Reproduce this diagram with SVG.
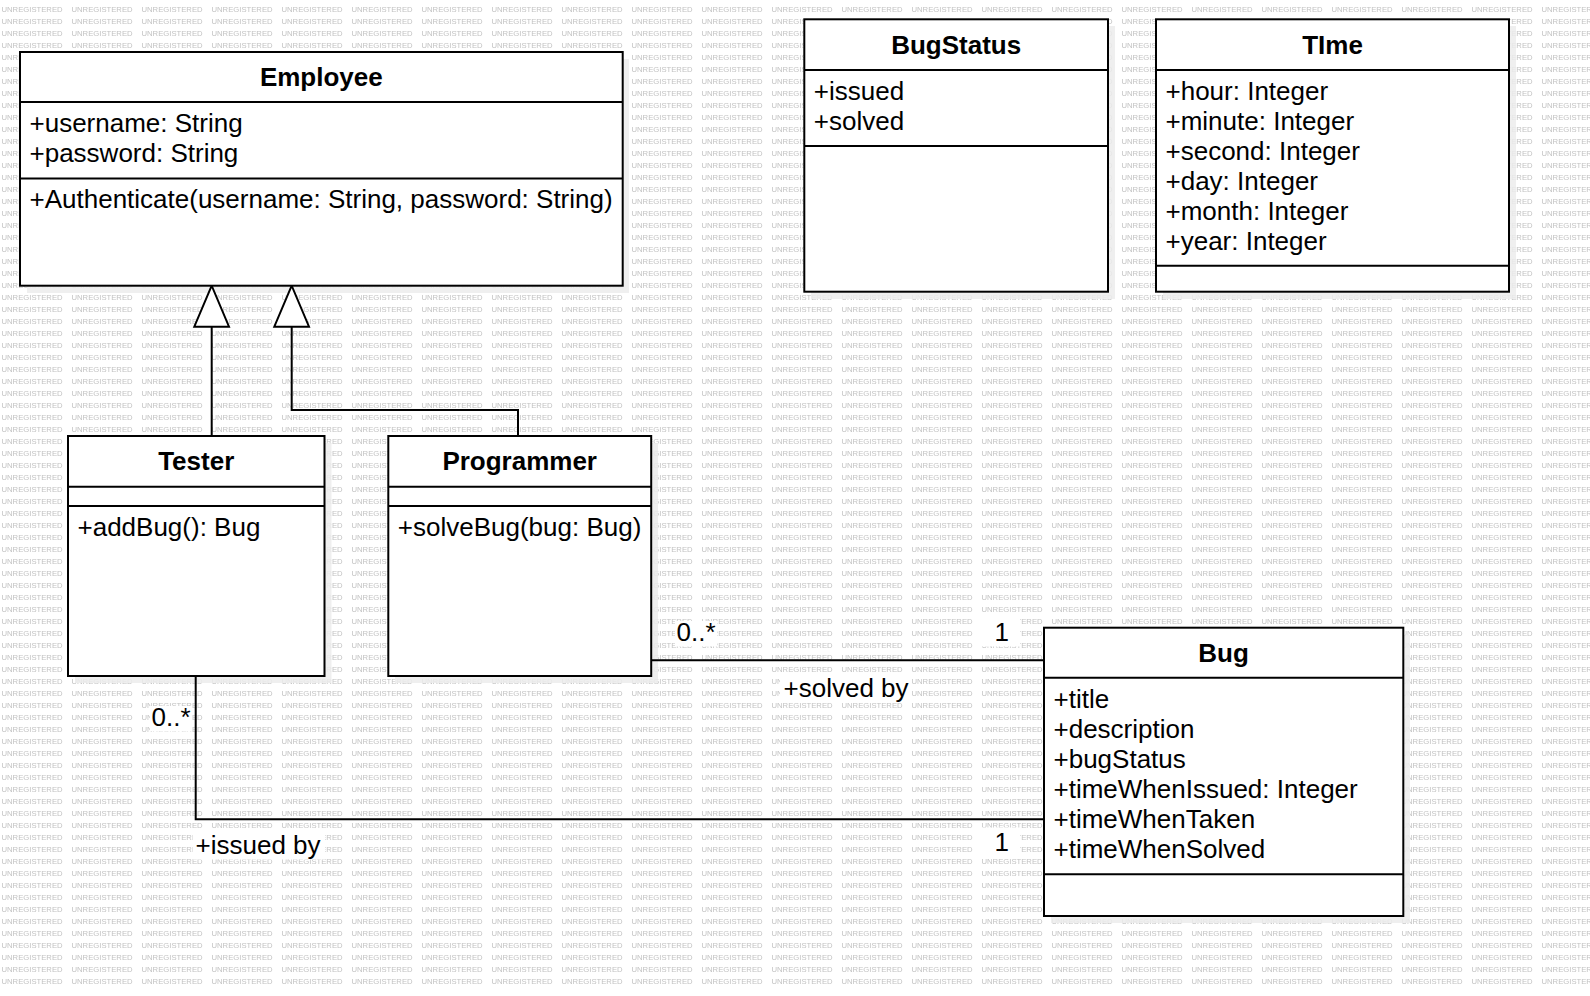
<svg xmlns="http://www.w3.org/2000/svg" width="1590" height="996" viewBox="0 0 1590 996">
<style>
.box{fill:#fff;stroke:#000;stroke-width:2}
.sep{stroke:#000;stroke-width:2;fill:none}
.shadow{fill:#ececec;opacity:0.85}
.t{font-family:"Liberation Sans",Arial,sans-serif;font-size:26px;fill:#000}
.b{font-weight:bold;text-anchor:middle}
.wm{font-family:"Liberation Sans",Arial,sans-serif;font-size:7.7px;fill:#c2c2c2}
.conn{stroke:#000;stroke-width:2;fill:none}
.tri{fill:#fff;stroke:#000;stroke-width:2;stroke-linejoin:miter}
.lbg{fill:#fff}
</style>
<defs>
<pattern id="wmp" patternUnits="userSpaceOnUse" x="0" y="0" width="70" height="12">
<text class="wm" x="1.5" y="11.8">UNREGISTERED</text>
</pattern>
</defs>
<rect x="0" y="0" width="1590" height="996" fill="#fff"/>
<rect x="0" y="0" width="1590" height="985" fill="url(#wmp)"/>

<g id="shadows">
<rect class="shadow" x="27" y="59" width="602" height="234"/>
<rect class="shadow" x="811" y="26" width="304" height="273"/>
<rect class="shadow" x="1163" y="26" width="353" height="273"/>
<rect class="shadow" x="75" y="443" width="256.5" height="240"/>
<rect class="shadow" x="395" y="443" width="263" height="240"/>
<rect class="shadow" x="1051" y="635" width="359" height="288"/>
</g>

<g id="connectors">
<polyline class="conn" points="211.7,326.7 211.7,436"/>
<polyline class="conn" points="291.7,326.7 291.7,410 518,410 518,436"/>
<polygon class="tri" points="211.7,285.7 194.3,326.7 229,326.7"/>
<polygon class="tri" points="291.7,285.7 274.3,326.7 309,326.7"/>
<polyline class="conn" points="651,660.3 1044,660.3"/>
<polyline class="conn" points="195.7,676 195.7,819.3 1044,819.3"/>
<rect class="lbg" x="675" y="621" width="42" height="25.5"/>
<text class="t" x="676.5" y="641">0..*</text>
<rect class="lbg" x="977" y="617.5" width="43" height="29"/>
<text class="t" x="994.5" y="641">1</text>
<rect class="lbg" x="780" y="676.5" width="132" height="26"/>
<text class="t" x="783.5" y="697.3">+solved by</text>
<rect class="lbg" x="150" y="706" width="42" height="25.5"/>
<text class="t" x="151.5" y="726">0..*</text>
<rect class="lbg" x="193" y="833.5" width="132" height="26"/>
<text class="t" x="195.5" y="853.8">+issued by</text>
<rect class="lbg" x="977" y="827.5" width="43" height="29"/>
<text class="t" x="994.5" y="851">1</text>
</g>

<g id="Employee">
<rect class="box" x="20" y="52" width="602.7" height="233.7"/>
<line class="sep" x1="20" y1="102" x2="622.7" y2="102"/>
<line class="sep" x1="20" y1="178.5" x2="622.7" y2="178.5"/>
<text class="t b" x="321.3" y="86.3">Employee</text>
<text class="t" x="29.5" y="132">+username: String</text>
<text class="t" x="29.5" y="162">+password: String</text>
<text class="t" x="29.5" y="207.5">+Authenticate(username: String, password: String)</text>
</g>

<g id="BugStatus">
<rect class="box" x="804.3" y="19.3" width="303.7" height="272.4"/>
<line class="sep" x1="804.3" y1="70" x2="1108" y2="70"/>
<line class="sep" x1="804.3" y1="146" x2="1108" y2="146"/>
<text class="t b" x="956.2" y="53.6">BugStatus</text>
<text class="t" x="813.8" y="99.8">+issued</text>
<text class="t" x="813.8" y="129.8">+solved</text>
</g>

<g id="TIme">
<rect class="box" x="1156" y="19.3" width="353" height="272.4"/>
<line class="sep" x1="1156" y1="70" x2="1509" y2="70"/>
<line class="sep" x1="1156" y1="265.7" x2="1509" y2="265.7"/>
<text class="t b" x="1332.5" y="53.6">TIme</text>
<text class="t" x="1165.5" y="99.6">+hour: Integer</text>
<text class="t" x="1165.5" y="129.6">+minute: Integer</text>
<text class="t" x="1165.5" y="159.6">+second: Integer</text>
<text class="t" x="1165.5" y="189.6">+day: Integer</text>
<text class="t" x="1165.5" y="219.6">+month: Integer</text>
<text class="t" x="1165.5" y="249.6">+year: Integer</text>
</g>

<g id="Tester">
<rect class="box" x="68" y="436" width="256.5" height="240"/>
<line class="sep" x1="68" y1="486.7" x2="324.5" y2="486.7"/>
<line class="sep" x1="68" y1="506" x2="324.5" y2="506"/>
<text class="t b" x="196.2" y="470.3">Tester</text>
<text class="t" x="77.5" y="535.8">+addBug(): Bug</text>
</g>

<g id="Programmer">
<rect class="box" x="388.3" y="436" width="262.9" height="240"/>
<line class="sep" x1="388.3" y1="486.7" x2="651.2" y2="486.7"/>
<line class="sep" x1="388.3" y1="506" x2="651.2" y2="506"/>
<text class="t b" x="519.7" y="470.3">Programmer</text>
<text class="t" x="397.8" y="535.8">+solveBug(bug: Bug)</text>
</g>

<g id="Bug">
<rect class="box" x="1044" y="627.7" width="359.3" height="288.3"/>
<line class="sep" x1="1044" y1="677.7" x2="1403.3" y2="677.7"/>
<line class="sep" x1="1044" y1="874.3" x2="1403.3" y2="874.3"/>
<text class="t b" x="1223.6" y="661.6">Bug</text>
<text class="t" x="1053.5" y="707.6">+title</text>
<text class="t" x="1053.5" y="737.6">+description</text>
<text class="t" x="1053.5" y="767.6">+bugStatus</text>
<text class="t" x="1053.5" y="797.6">+timeWhenIssued: Integer</text>
<text class="t" x="1053.5" y="827.6">+timeWhenTaken</text>
<text class="t" x="1053.5" y="857.6">+timeWhenSolved</text>
</g>
</svg>
